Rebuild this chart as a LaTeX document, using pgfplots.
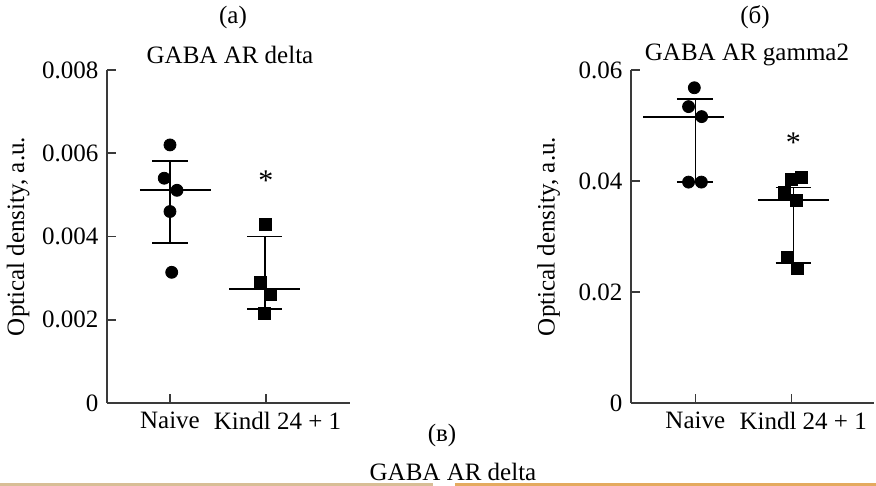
\documentclass[border=0pt]{standalone}
\usepackage{fontspec}
\setmainfont{Liberation Serif}
\usepackage{pgfplots}
\pgfplotsset{compat=1.18}
\definecolor{axgray}{HTML}{3A3A3A}
\definecolor{edgetan}{RGB}{216,190,150}
\definecolor{edgeorange}{RGB}{228,170,95}

\newcommand{\fs}{\fontsize{12.5}{15}\selectfont}

\pgfplotsset{
  dotplot/.style={
    scale only axis, width=121.5pt, height=166.5pt,
    axis lines=left, axis line style={-, line width=1pt, axgray},
    tick align=inside, major tick length=4.5pt,
    tick style={line width=0.8pt, axgray},
    ymin=0, clip=false, scaled y ticks=false,
    xtick={1,2}, xticklabels={Naive,{\hspace*{11.5pt}Kindl 24 + 1}},
    tick label style={font=\fs},
    /pgf/number format/assume math mode=true,
    every axis y label/.style={rotate=90, anchor=center, font=\fs},
    ylabel={Optical density, a.u.},
  },
  whisk/.style={black, line width=0.7pt, no marks},
  med/.style={black, line width=1pt, no marks},
  dots/.style={only marks, mark=*, mark size=3pt, black},
  sqs/.style={only marks, mark=square*, mark size=3pt, black},
}
\tikzset{sigstar/.style={anchor=base, yshift=-8pt, font=\fontsize{15}{18}\selectfont}}

\begin{document}
\fs
\begin{tikzpicture}
\useasboundingbox (0,0) rectangle (438pt,243pt);

% (a) GABA AR delta
\begin{axis}[dotplot, at={(53.5pt,41.5pt)}, anchor=south west,
  xmin=0.344, xmax=2.875, ymax=0.008,
  ytick={0,0.002,0.004,0.006,0.008},
  yticklabels={0,0.002,0.004,0.006,0.008},
  every axis y label/.append style={at={(axis description cs:-0.366,0.5)}}]
\addplot[dots] coordinates {(1.0,0.0062) (0.94,0.0054) (1.073,0.00511) (1.0,0.0046) (1.018,0.00314)};
\addplot[whisk] coordinates {(1,0.00384) (1,0.00581)};
\addplot[whisk] coordinates {(0.816,0.00581) (1.184,0.00581)};
\addplot[whisk] coordinates {(0.816,0.00384) (1.184,0.00384)};
\addplot[med] coordinates {(0.6875,0.00511) (1.427,0.00511)};
\addplot[sqs] coordinates {(1.997,0.00428) (1.937,0.00289) (2.049,0.00261) (1.986,0.00215)};
\addplot[whisk] coordinates {(1.99,0.00226) (1.99,0.0040)};
\addplot[whisk] coordinates {(1.805,0.0040) (2.17,0.0040)};
\addplot[whisk] coordinates {(1.805,0.00226) (2.17,0.00226)};
\addplot[med] coordinates {(1.615,0.00274) (2.354,0.00274)};
\node[sigstar] at (axis cs:2.0,0.00548) {*};
\end{axis}

% (b) GABA AR gamma2
\begin{axis}[dotplot, at={(315.5pt,41.5pt)}, anchor=south west,
  xmin=0.333, xmax=2.854, ymax=0.06,
  ytick={0,0.02,0.04,0.06},
  yticklabels={0,0.02,0.04,0.06},
  every axis y label/.append style={at={(axis description cs:-0.339,0.5)}}]
\addplot[dots] coordinates {(0.99,0.0568) (0.93,0.0534) (1.066,0.0516) (0.93,0.0398) (1.063,0.0398)};
\addplot[whisk] coordinates {(1,0.0398) (1,0.0548)};
\addplot[whisk] coordinates {(0.81,0.0548) (1.185,0.0548)};
\addplot[whisk] coordinates {(0.81,0.0398) (1.185,0.0398)};
\addplot[med] coordinates {(0.46,0.0516) (1.30,0.0516)};
\addplot[sqs] coordinates {(2.0,0.0403) (2.104,0.0407) (1.927,0.0380) (2.052,0.0365) (1.955,0.0263) (2.059,0.0242)};
\addplot[whisk] coordinates {(2.018,0.0252) (2.018,0.0388)};
\addplot[whisk] coordinates {(1.833,0.0388) (2.198,0.0388)};
\addplot[whisk] coordinates {(1.833,0.0252) (2.198,0.0252)};
\addplot[med] coordinates {(1.649,0.0366) (2.389,0.0366)};
\node[sigstar] at (axis cs:2.018,0.0481) {*};
\end{axis}

\begin{scope}[x=0.5pt,y=0.5pt]
\node[font=\fs] at (233,469) {(a)};
\node[font=\fs] at (230,431) {GABA AR delta};
\node[font=\fs] at (755,469) {(б)};
\node[font=\fs] at (747,431) {GABA AR gamma2};
\node[font=\fs] at (442,51) {(в)};
\node[font=\fs] at (453,14) {GABA AR delta};
\draw[edgetan, line width=1.5pt] (0,1.5) -- (433,1.5);
\draw[edgeorange, line width=1.5pt] (455,1.5) -- (876,1.5);
\end{scope}
\end{tikzpicture}
\end{document}
